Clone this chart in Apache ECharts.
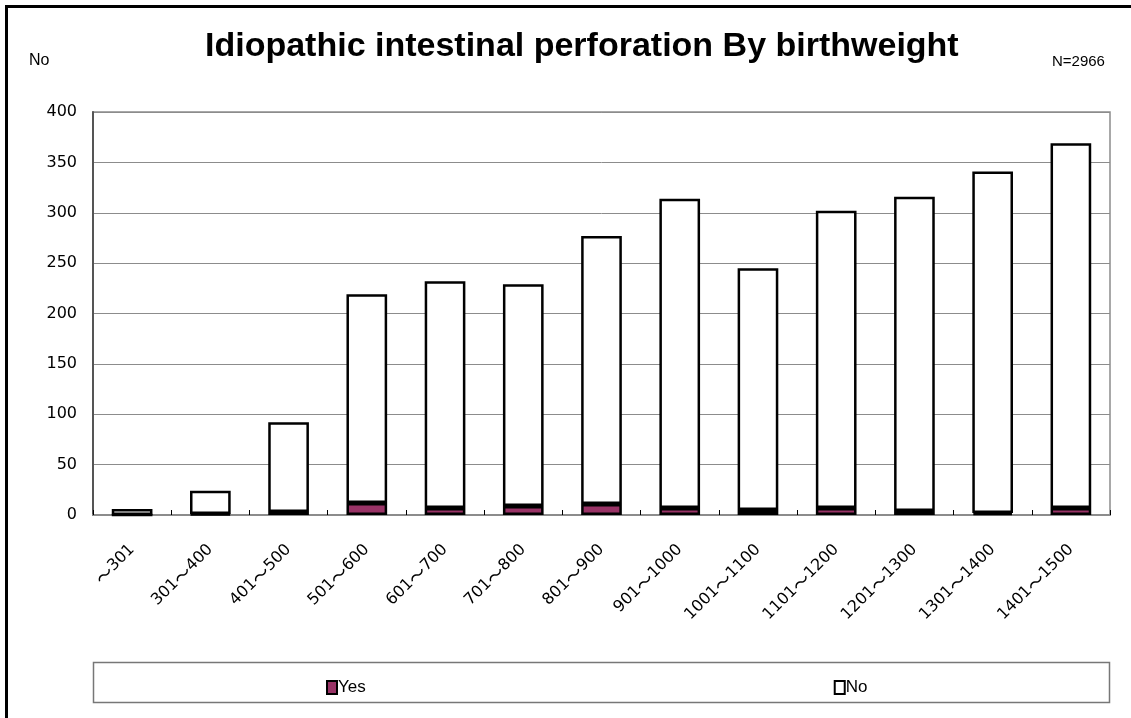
<!DOCTYPE html>
<html>
<head>
<meta charset="utf-8">
<script src="https://cdn.jsdelivr.net/npm/echarts@6/dist/echarts.min.js"></script>
<style>
  html, body { margin: 0; padding: 0; background: #fff; }
  #chart { width: 1131px; height: 718px; }
</style>
</head>
<body>
<div id="chart"></div>
<script>
// Birthweight groups (g)
const categories = ['～301', '301～400', '401～500', '501～600', '601～700', '701～800', '801～900',
  '901～1000', '1001～1100', '1101～1200', '1201～1300', '1301～1400', '1401～1500'];
// Infants with idiopathic intestinal perforation
const yesValues = [0, 1, 3, 12, 7, 9, 11, 7, 5, 7, 4, 2, 7];
// Infants without it
const noValues = [6, 23, 89, 207, 225, 220, 266, 307, 240, 295, 312, 339, 362];
const yTicks = { min: 0, max: 400, interval: 50 };
const titleText = 'Idiopathic intestinal perforation By birthweight';
const totalText = 'N=2966';
const yAxisTitle = 'No';

const chart = echarts.init(document.getElementById('chart'), null, { renderer: 'canvas' });

const labelFont = '"DejaVu Sans", sans-serif';
const cjkFont = '"Noto Sans CJK JP", sans-serif';

// split the range labels so the wave dash is set in a CJK face
function rangeLabel(v) {
  const parts = v.split('～');
  return (parts[0] ? '{d|' + parts[0] + '}' : '') + '{t|～}' + '{d|' + parts[1] + '}';
}

chart.setOption({
  backgroundColor: '#ffffff',
  animation: false,
  title: {
    text: titleText,
    left: 200,
    top: 25,
    textStyle: { fontFamily: '"Liberation Sans", sans-serif', fontWeight: 'bold', fontSize: 34, color: '#000' }
  },
  grid: {
    left: 93, right: 21, top: 112, bottom: 203,
    show: true, borderColor: '#8c8c8c', borderWidth: 1.5, backgroundColor: 'transparent'
  },
  legend: {
    data: ['Yes', 'No'],
    left: 321,
    top: 674,
    itemGap: 468,
    itemWidth: 10,
    itemHeight: 13,
    icon: 'rect',
    textStyle: { fontFamily: '"Liberation Sans", sans-serif', fontSize: 17, color: '#000', padding: [0, 0, 0, -4] }
  },
  graphic: [
    { type: 'line', shape: { x1: 6.5, y1: 5, x2: 6.5, y2: 718 }, style: { stroke: '#000', lineWidth: 3 } },
    { type: 'line', shape: { x1: 5, y1: 6.5, x2: 1131, y2: 6.5 }, style: { stroke: '#000', lineWidth: 3 } },
    { type: 'rect', shape: { x: 93.5, y: 662.5, width: 1016, height: 40 }, style: { fill: 'none', stroke: '#777', lineWidth: 1.5 }, z: -1 },
    { type: 'text', left: 29, top: 53, style: { text: yAxisTitle, fontSize: 16, fontFamily: 'Liberation Sans', fill: '#000' } },
    { type: 'text', left: 1052, top: 54, style: { text: totalText, fontSize: 15, fontFamily: 'Liberation Sans', fill: '#000' } }
  ],
  xAxis: {
    type: 'category',
    data: categories,
    axisLine: { lineStyle: { color: '#8c8c8c', width: 2 } },
    axisTick: { show: true, inside: true, length: 5, lineStyle: { color: '#000', width: 1 } },
    axisLabel: {
      rotate: 45, color: '#000', margin: 32, interval: 0,
      formatter: rangeLabel,
      rich: {
        d: { fontFamily: labelFont, fontSize: 16, color: '#000' },
        t: { fontFamily: cjkFont, fontSize: 18, color: '#000' }
      }
    }
  },
  yAxis: {
    type: 'value',
    min: yTicks.min, max: yTicks.max, interval: yTicks.interval,
    axisLine: { show: true, lineStyle: { color: '#555', width: 2 } },
    axisTick: { show: false },
    splitLine: { lineStyle: { color: '#8c8c8c', width: 1 } },
    axisLabel: { fontFamily: labelFont, fontSize: 16, color: '#000', margin: 16 }
  },
  series: [
    {
      name: 'Yes', type: 'bar', stack: 'total', barWidth: '52%',
      data: yesValues,
      itemStyle: { color: '#993366', borderColor: '#000', borderWidth: 2.5 }
    },
    {
      name: 'No', type: 'bar', stack: 'total', barWidth: '52%',
      data: noValues,
      itemStyle: { color: '#ffffff', borderColor: '#000', borderWidth: 2.5 }
    }
  ]
});
</script>
</body>
</html>
